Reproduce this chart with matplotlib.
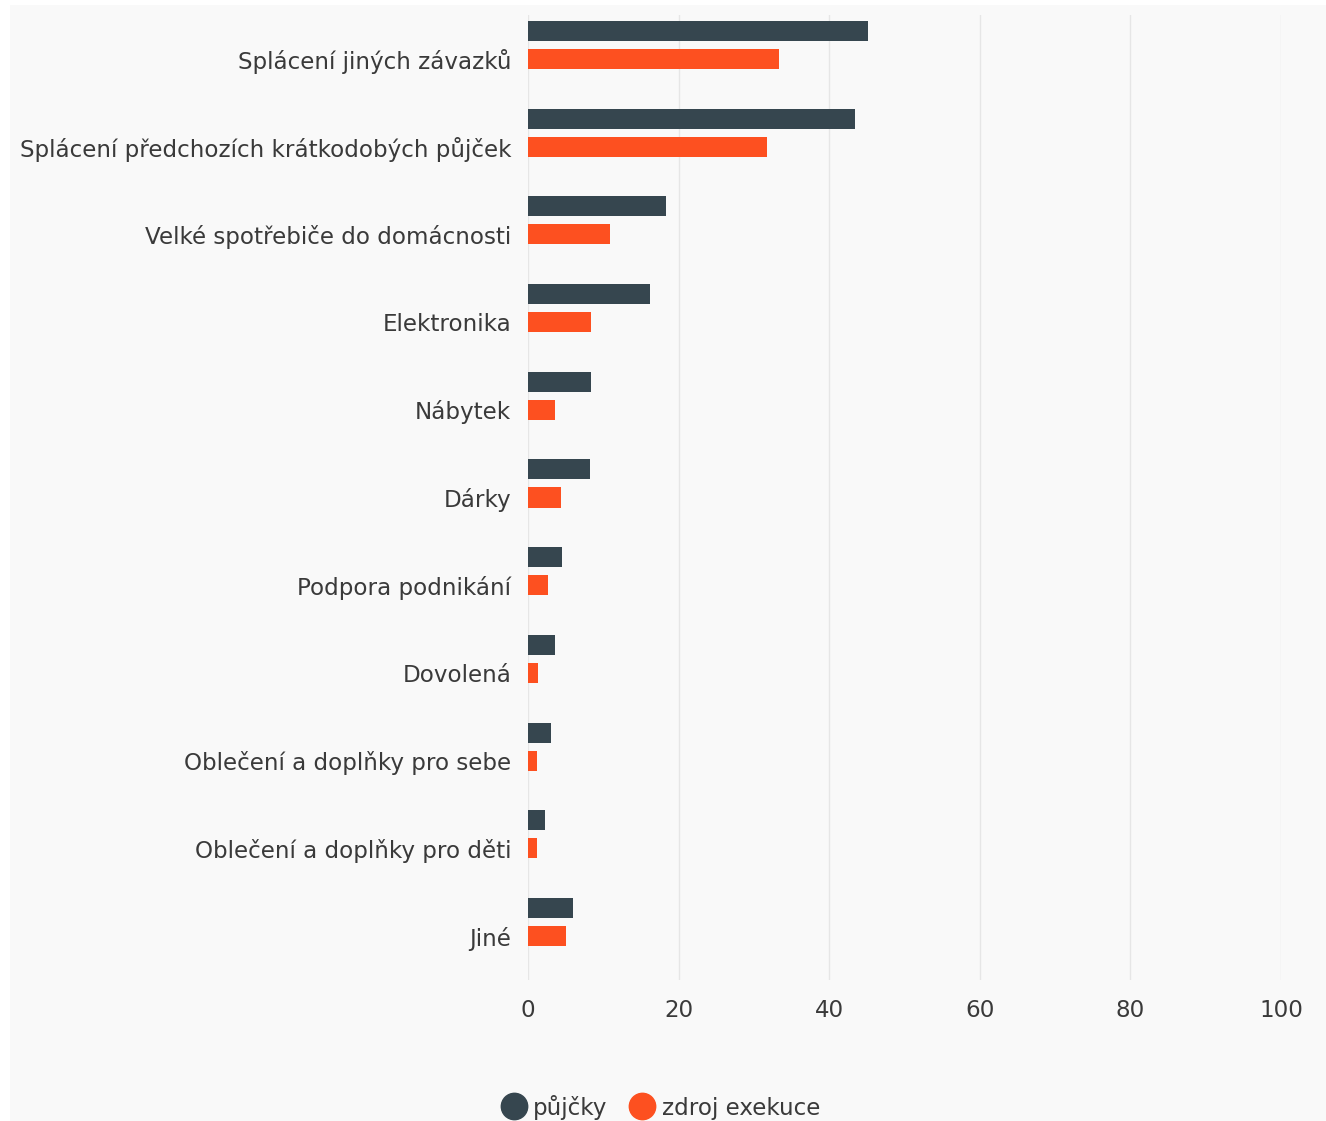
import matplotlib.pyplot as plt
from matplotlib.patches import Rectangle
from matplotlib.lines import Line2D

categories = [
    "Splácení jiných závazků",
    "Splácení předchozích krátkodobých půjček",
    "Velké spotřebiče do domácnosti",
    "Elektronika",
    "Nábytek",
    "Dárky",
    "Podpora podnikání",
    "Dovolená",
    "Oblečení a doplňky pro sebe",
    "Oblečení a doplňky pro děti",
    "Jiné",
]
pujcky = [45.2, 43.4, 18.3, 16.2, 8.4, 8.2, 4.5, 3.6, 3.1, 2.3, 6.0]
exekuce = [33.3, 31.7, 10.9, 8.4, 3.6, 4.4, 2.7, 1.3, 1.2, 1.2, 5.0]
xticks = [0, 20, 40, 60, 80, 100]

dark = "#36464f"
orange = "#fd5020"
text_color = "#3a3a3a"
bg = "#f9f9f9"
fs = 16.6

W, H = 1326, 1121
fig = plt.figure(figsize=(W / 100, H / 100), dpi=100)
fig.patch.set_facecolor("white")
fig.patches.append(Rectangle((10 / W, 0), 1 - 10 / W, 1 - 5 / H,
                             transform=fig.transFigure, facecolor=bg,
                             edgecolor="none", zorder=-10))

ax = fig.add_axes([528 / W, 1 - 980 / H, (1281 - 528) / W, (980 - 15) / H])
ax.set_facecolor("none")

pos = list(range(len(categories)))
bar_h = 0.228
ax.barh([p - 0.32 for p in pos], pujcky, height=bar_h, color=dark, zorder=3)
ax.barh(pos, exekuce, height=bar_h, color=orange, zorder=3)

ax.set_ylim(len(categories) - 0.5, -0.5)
ax.set_xlim(0, 100)
ax.set_yticks(pos)
ax.set_yticklabels(categories)
ax.set_xticks(xticks)
ax.tick_params(axis="both", length=0, labelsize=fs, colors=text_color)
ax.tick_params(axis="y", pad=12)
ax.tick_params(axis="x", pad=14)
ax.grid(axis="x", color="#e6e6e6", linewidth=1, zorder=0)
for s in ax.spines.values():
    s.set_visible(False)

handles = [
    Line2D([], [], marker="o", linestyle="none", markersize=19, color=dark),
    Line2D([], [], marker="o", linestyle="none", markersize=19, color=orange),
]
fig.legend(handles, ["půjčky", "zdroj exekuce"], loc="center",
           bbox_to_anchor=(660 / W, 1 - 1107 / H), ncol=2, frameon=False,
           fontsize=fs, labelcolor=text_color, handletextpad=0.25,
           columnspacing=0.9, handlelength=1.2)

fig.savefig("out.png", dpi=100)
